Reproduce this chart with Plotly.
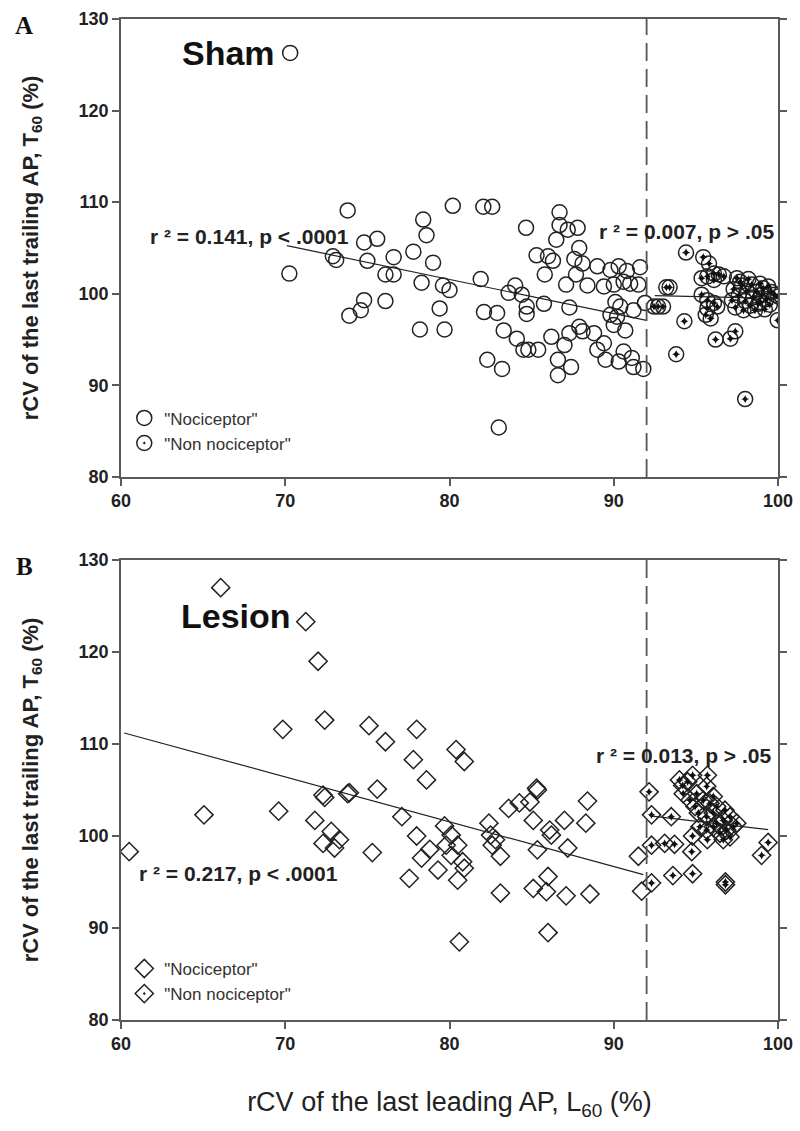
import plotly.graph_objects as go

# ---------------- data ----------------
x_ticks = [60, 70, 80, 90, 100]
y_ticks = [80, 90, 100, 110, 120, 130]
threshold_L60 = 92

# Panel A (Sham)
sham_noc_x = [70.25, 73.8, 72.9, 73.1, 74.8, 75.6, 75.0, 76.6, 76.1, 76.6, 74.8, 74.6, 73.9, 76.1,
              78.4, 78.6, 77.8, 79.0, 80.2, 78.3, 79.6, 80.0, 79.4, 78.2, 79.7, 70.3,
              82.06, 82.6, 84.66, 86.7, 86.7, 87.2, 87.8, 86.5, 85.3, 86.0, 86.3, 85.8, 87.6, 87.9,
              88.1, 89.0, 89.8, 90.3, 90.8, 91.6, 87.7, 87.1, 88.4, 89.4, 90.0, 90.6, 91.0, 91.5,
              81.9, 84.0, 83.6, 84.4, 84.7, 84.7, 85.75, 87.3, 90.1, 90.4, 91.2, 91.9, 89.8, 90.2,
              82.1, 82.9, 83.3, 84.1, 84.8, 84.5, 85.4, 86.2, 87.0, 87.3, 87.9, 88.1, 88.8, 89.4,
              90.0, 90.7, 89.0, 89.5, 90.3, 90.6, 91.1, 91.2, 91.8, 86.6, 87.4, 86.6, 82.3, 83.2, 83.0]
sham_noc_y = [102.2, 109.1, 104.1, 103.7, 105.6, 106.0, 103.6, 104.0, 102.1, 102.1, 99.3, 98.2, 97.6, 99.2,
              108.1, 106.4, 104.6, 103.4, 109.6, 101.2, 100.9, 100.4, 98.4, 96.1, 96.1, 126.3,
              109.5, 109.5, 107.2, 108.9, 107.5, 107.0, 107.2, 105.9, 104.2, 104.1, 103.6, 102.1, 103.8, 105.0,
              103.3, 103.0, 102.6, 103.0, 102.5, 102.9, 102.1, 101.0, 100.9, 100.8, 101.0, 101.3, 101.1, 101.0,
              101.6, 100.9, 100.1, 99.9, 98.6, 97.8, 98.9, 98.5, 99.1, 98.6, 98.2, 99.0, 97.7, 97.5,
              98.0, 97.9, 96.0, 95.1, 93.9, 93.9, 93.9, 95.3, 94.4, 95.7, 96.4, 95.9, 95.7, 94.6,
              96.6, 96.0, 93.9, 92.8, 92.6, 93.7, 93.0, 92.0, 91.8, 92.8, 92.0, 91.1, 92.8, 91.8, 85.4]

sham_non_x = [92.45, 92.7, 93.0, 93.2, 93.4, 94.4, 94.3, 93.8, 95.45, 95.8, 95.35, 95.7, 96.1, 96.4,
              96.7, 96.1, 95.35, 95.7, 96.1, 96.3, 95.7, 95.6, 95.9, 96.2, 97.1, 97.4, 98.0, 100.0,
              99.98, 98.9, 99.4, 97.5, 97.3, 97.6, 97.8, 98.0, 98.1, 98.3, 98.4, 98.5, 98.7, 98.8,
              99.0, 99.1, 99.3, 99.5, 99.6, 97.4, 97.9, 98.6, 99.2, 97.2, 98.2, 97.7, 99.8, 98.9]
sham_non_y = [98.6, 98.6, 98.6, 100.7, 100.7, 104.5, 97.0, 93.4, 104.0, 103.3, 101.7, 101.9, 102.2, 102.1,
              101.9, 101.5, 99.9, 99.3, 99.0, 98.6, 98.4, 97.7, 97.3, 95.0, 95.1, 95.9, 88.5, 99.7,
              97.1, 101.1, 100.8, 101.7, 100.5, 99.8, 100.9, 99.2, 100.3, 98.7, 101.0, 99.6, 100.2, 98.9,
              99.9, 100.6, 99.4, 98.8, 100.2, 98.5, 98.2, 98.2, 98.3, 99.3, 101.6, 101.3, 99.9, 99.1]

sham_fit_noc_x = [70.1, 92.0]
sham_fit_noc_y = [105.25, 97.1]
sham_fit_non_x = [92.5, 100.0]
sham_fit_non_y = [99.8, 99.5]

# Panel B (Lesion)
lesion_noc_x = [66.07, 71.25, 72.0, 72.4, 69.85, 75.1, 76.1, 78.0, 77.8, 78.6, 80.4, 80.9, 72.3, 72.4,
                73.8, 73.9, 75.6, 69.6, 65.05, 60.5, 71.8, 72.8, 73.3, 72.3, 73.0, 75.3, 77.1, 78.0,
                79.7, 80.1, 80.5, 79.8, 80.1, 78.8, 78.3, 79.3, 77.55, 80.5, 80.8, 80.9, 80.6, 82.4,
                82.5, 82.8, 83.1, 82.6, 83.1, 83.6, 84.25, 84.9, 85.35, 85.3, 85.1, 85.35, 86.1, 86.2,
                87.0, 88.3, 88.4, 87.2, 85.1, 86.0, 85.9, 87.1, 88.55, 86.0, 91.5, 91.7]
lesion_noc_y = [127.0, 123.3, 119.0, 112.6, 111.6, 112.0, 110.25, 111.6, 108.3, 106.1, 109.4, 108.1, 104.45, 104.2,
                104.6, 104.7, 105.1, 102.7, 102.3, 98.3, 101.7, 100.5, 99.6, 99.2, 98.7, 98.2, 102.1, 100.0,
                101.1, 100.1, 99.0, 99.0, 97.9, 98.55, 97.6, 96.3, 95.4, 95.2, 97.2, 96.5, 88.5, 101.4,
                100.1, 99.6, 97.8, 99.0, 93.8, 103.0, 103.6, 103.7, 105.0, 105.2, 101.7, 98.5, 100.65, 100.1,
                101.7, 101.4, 103.8, 98.7, 94.3, 95.6, 93.95, 93.5, 93.7, 89.5, 97.8, 94.0]

lesion_non_x = [92.15, 92.3, 93.5, 92.3, 93.1, 93.7, 92.3, 93.6, 94.8, 94.8, 94.75, 96.8, 96.8, 95.7,
                99.0, 99.4, 94.0, 94.2, 94.5, 94.8, 95.7, 95.05, 95.45, 95.86, 95.15, 95.66, 96.06, 96.27,
                96.67, 96.88, 96.47, 97.08, 97.28, 97.49, 96.77, 96.06, 96.67, 95.66, 95.25, 94.64, 94.23,
                94.95, 96.06, 95.66, 96.27, 97.08]
lesion_non_y = [104.8, 102.3, 102.1, 99.0, 99.2, 99.1, 94.9, 95.7, 95.9, 100.0, 98.3, 95.0, 94.7, 99.6,
                97.9, 99.3, 106.1, 105.5, 105.9, 106.6, 106.6, 104.6, 103.9, 103.55, 102.5, 102.1, 102.5, 101.4,
                101.7, 100.65, 100.3, 99.9, 101.0, 101.4, 102.8, 101.0, 99.6, 100.65, 101.0, 103.9, 104.6,
                103.2, 104.3, 105.4, 103.2, 102.1]

lesion_fit_noc_x = [60.2, 91.8]
lesion_fit_noc_y = [111.2, 95.8]
lesion_fit_non_x = [92.2, 99.4]
lesion_fit_non_y = [102.2, 100.7]

# ---------------- style ----------------
INK = "#222222"
AXIS = "#5a5a5a"
SANS = "Liberation Sans, Arial, sans-serif"
SERIF = "Liberation Serif, Times New Roman, serif"

fig = go.Figure()


def add_panel(xa, ya, noc_x, noc_y, non_x, non_y, fit1x, fit1y, fit2x, fit2y, sym, size, legend):
    fig.add_trace(go.Scatter(x=fit1x, y=fit1y, mode="lines", line=dict(color=INK, width=1.2),
                             xaxis=xa, yaxis=ya, showlegend=False, hoverinfo="skip"))
    fig.add_trace(go.Scatter(x=fit2x, y=fit2y, mode="lines", line=dict(color=INK, width=1.2),
                             xaxis=xa, yaxis=ya, showlegend=False, hoverinfo="skip"))
    fig.add_trace(go.Scatter(x=noc_x, y=noc_y, mode="markers", name='"Nociceptor"',
                             marker=dict(symbol=sym + "-open", size=size, color=INK,
                                         line=dict(width=1.5, color=INK)),
                             xaxis=xa, yaxis=ya, legend=legend))
    fig.add_trace(go.Scatter(x=non_x, y=non_y, mode="markers", name='"Non nociceptor"',
                             marker=dict(symbol=sym + "-open-dot", size=size, color=INK,
                                         line=dict(width=1.5, color=INK)),
                             xaxis=xa, yaxis=ya, legend=legend))
    fig.add_trace(go.Scatter(x=non_x, y=non_y, mode="markers",
                             marker=dict(symbol="star-diamond", size=6, color="#111111", line=dict(width=0)),
                             xaxis=xa, yaxis=ya, showlegend=False, hoverinfo="skip"))


add_panel("x", "y", sham_noc_x, sham_noc_y, sham_non_x, sham_non_y,
          sham_fit_noc_x, sham_fit_noc_y, sham_fit_non_x, sham_fit_non_y, "circle", 15, "legend")
add_panel("x2", "y2", lesion_noc_x, lesion_noc_y, lesion_non_x, lesion_non_y,
          lesion_fit_noc_x, lesion_fit_noc_y, lesion_fit_non_x, lesion_fit_non_y, "diamond", 14, "legend2")

tickfont = dict(family=SANS, size=18, color=INK, weight="bold")
common_x = dict(range=[60, 100], tickvals=x_ticks, showgrid=False, zeroline=False, showline=True,
                linecolor=AXIS, linewidth=1.6, mirror=True, ticks="outside", ticklen=7, tickwidth=1.6,
                tickcolor=AXIS, tickfont=tickfont, automargin=False)
common_y = dict(range=[80, 130], tickvals=y_ticks, showgrid=False, zeroline=False, showline=True,
                linecolor=AXIS, linewidth=1.6, mirror="ticks", ticks="outside", ticklen=7, tickwidth=1.6,
                tickcolor=AXIS, tickfont=tickfont, automargin=False,
                title=dict(text="rCV of the last trailing AP, T<sub>60</sub> (%)", standoff=34,
                           font=dict(family=SANS, size=22, color=INK, weight="bold")))

fig.update_layout(
    width=800, height=1131,
    margin=dict(l=121, r=22, t=19, b=111),
    paper_bgcolor="white", plot_bgcolor="white",
    xaxis=dict(common_x, anchor="y"),
    yaxis=dict(common_y, domain=[0.5425, 1.0], anchor="x"),
    xaxis2=dict(common_x, anchor="y2",
                title=dict(text="rCV of the last leading AP, L<sub>60</sub> (%)", standoff=39,
                           font=dict(family=SANS, size=27, color=INK))),
    yaxis2=dict(common_y, domain=[0.0, 0.4595], anchor="x2"),
    legend=dict(x=0.005, y=0.619, xanchor="left", yanchor="top", bgcolor="rgba(0,0,0,0)",
                font=dict(family=SANS, size=17, color="#333333"), tracegroupgap=0),
    legend2=dict(x=0.005, y=0.069, xanchor="left", yanchor="top", bgcolor="rgba(0,0,0,0)",
                 font=dict(family=SANS, size=17, color="#333333"), tracegroupgap=0),
)

# threshold dashed lines
for xr, yr in (("x", "y domain"), ("x2", "y2 domain")):
    fig.add_shape(type="line", xref=xr, yref=yr, x0=threshold_L60, x1=threshold_L60, y0=0, y1=1,
                  line=dict(color="#555555", width=1.8, dash="18px,8px"))

lab = dict(family=SANS, size=21, color=INK, weight="bold")
annots = [
    dict(x=69.5, y=126.3, xref="x", yref="y", text="Sham", xanchor="right",
         font=dict(family=SANS, size=34, color="#111111", weight="bold")),
    dict(x=70.47, y=123.9, xref="x2", yref="y2", text="Lesion", xanchor="right",
         font=dict(family=SANS, size=34, color="#111111", weight="bold")),
    dict(x=61.65, y=106.2, xref="x", yref="y", text="r ² = 0.141, p < .0001", xanchor="left", font=lab),
    dict(x=89.0, y=106.8, xref="x", yref="y", text="r ² = 0.007, p > .05", xanchor="left", font=lab),
    dict(x=60.95, y=95.95, xref="x2", yref="y2", text="r ² = 0.217, p < .0001", xanchor="left", font=lab),
    dict(x=88.8, y=108.8, xref="x2", yref="y2", text="r ² = 0.013, p > .05", xanchor="left", font=lab),
    dict(x=-0.1476, y=0.994, xref="paper", yref="paper", text="A", xanchor="center", yanchor="middle",
         font=dict(family=SERIF, size=25, color="#111111", weight="bold")),
    dict(x=-0.1476, y=0.4535, xref="paper", yref="paper", text="B", xanchor="center", yanchor="middle",
         font=dict(family=SERIF, size=25, color="#111111", weight="bold")),
]
for a in annots:
    a["showarrow"] = False
    fig.add_annotation(**a)

fig.write_html("out.html", config={"displayModeBar": False},
               post_script="document.body.style.margin='0';document.documentElement.style.overflow='hidden';")
